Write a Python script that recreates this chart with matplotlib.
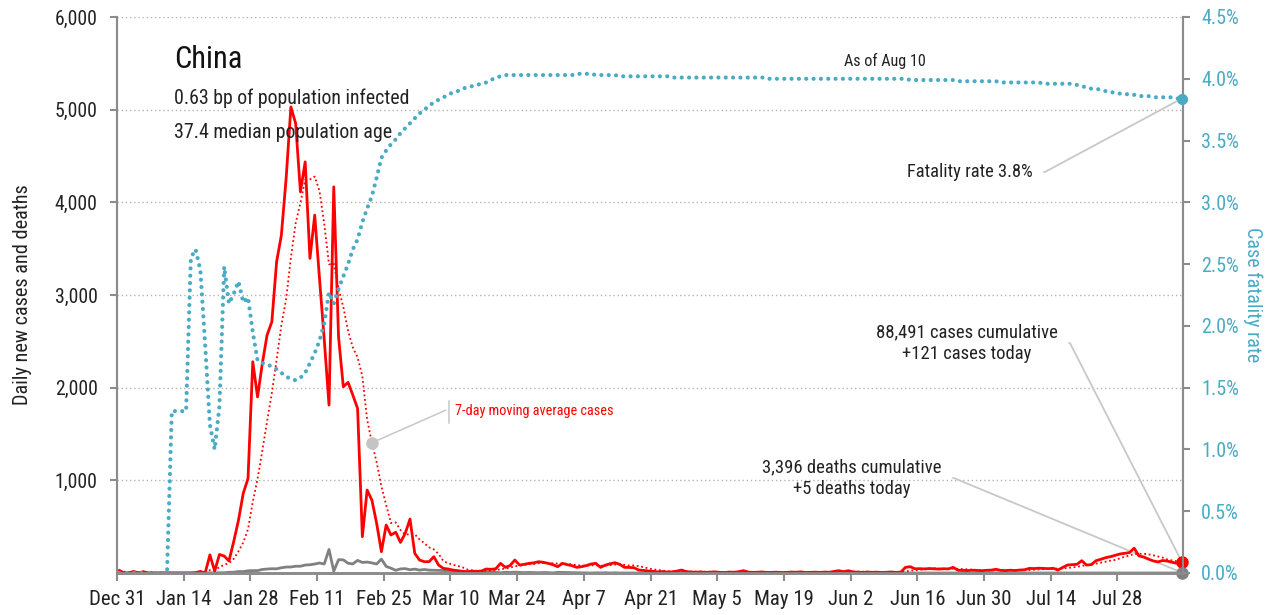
import numpy as np
import pandas as pd
import matplotlib
matplotlib.use('Agg')
import matplotlib.pyplot as plt
from matplotlib import font_manager
from matplotlib.lines import Line2D

# ---------------- data ----------------
start_date = '2019-12-31'

cases = [
    27, 0, 0, 17, 0, 15, 0, 0, 0, 0,
    0, 0, 0, 0, 0, 0, 4, 17, 0, 195,
    20, 200, 183, 130, 340, 570, 860, 1020, 2280, 1900,
    2260, 2567, 2711, 3358, 3646, 4258, 5030, 4851, 4113, 4437,
    3395, 3862, 3180, 2520, 1812, 4167, 2549, 2010, 2057, 1920,
    1776, 392, 895, 787, 536, 230, 518, 410, 440, 330,
    428, 582, 212, 140, 122, 122, 176, 86, 50, 43,
    32, 25, 18, 15, 20, 17, 22, 43, 40, 45,
    104, 61, 80, 140, 86, 94, 104, 110, 122, 115,
    104, 90, 68, 104, 90, 79, 61, 68, 80, 97,
    104, 61, 85, 100, 111, 94, 61, 60, 57, 32,
    28, 22, 18, 12, 15, 10, 12, 20, 32, 15,
    10, 8, 11, 6, 9, 12, 7, 5, 10, 8,
    14, 25, 10, 6, 8, 11, 5, 7, 9, 4,
    6, 10, 8, 12, 5, 7, 9, 6, 10, 8,
    16, 25, 14, 25, 11, 8, 6, 10, 7, 9,
    5, 8, 11, 6, 9, 61, 68, 45, 47, 44,
    48, 45, 42, 46, 44, 61, 30, 28, 26, 30,
    27, 25, 29, 31, 40, 28, 26, 30, 27, 32,
    35, 50, 48, 52, 50, 47, 51, 32, 60, 86,
    90, 94, 133, 86, 90, 133, 148, 165, 176, 190,
    205, 212, 220, 268, 184, 172, 150, 130, 120, 135,
    128, 115, 104, 121,
]

deaths = [
    0, 0, 0, 0, 0, 0, 0, 0, 0, 0,
    0, 1, 0, 0, 0, 0, 1, 0, 0, 1,
    1, 3, 3, 8, 8, 16, 15, 24, 26, 26,
    38, 43, 46, 45, 57, 64, 65, 73, 73, 86,
    89, 97, 108, 97, 254, 20, 143, 142, 105, 98,
    136, 114, 118, 109, 97, 150, 71, 52, 29, 44,
    47, 35, 42, 31, 38, 31, 30, 28, 27, 22,
    17, 22, 11, 7, 13, 10, 14, 13, 11, 8,
    3, 7, 6, 9, 7, 4, 6, 5, 3, 5,
    4, 1, 7, 6, 4, 4, 3, 1, 2, 0,
    2, 1, 3, 0, 2, 0, 0, 1, 0, 0,
    0, 0, 0, 1, 0, 0, 0, 0, 0, 0,
    0, 0, 0, 0, 0, 0, 0, 0, 0, 0,
    0, 0, 0, 0, 0, 0, 0, 0, 0, 0,
    0, 0, 0, 0, 0, 0, 0, 0, 0, 0,
    0, 0, 0, 0, 0, 0, 0, 0, 0, 0,
    0, 0, 0, 0, 0, 0, 0, 0, 0, 0,
    0, 0, 0, 0, 0, 0, 0, 0, 0, 0,
    0, 0, 0, 0, 0, 0, 0, 0, 0, 0,
    0, 0, 0, 0, 0, 0, 0, 0, 0, 0,
    0, 0, 0, 0, 0, 0, 0, 0, 0, 0,
    0, 0, 0, 0, 0, 0, 0, 0, 0, 0,
    0, 0, 0, 5,
]

# case fatality rate, percent
cfr = (
    [0.00, 0.00, 0.00, 0.00, 0.00, 0.00, 0.00, 0.00, 0.00, 0.00,
     0.00, 1.31, 1.31, 1.31, 1.31, 2.55, 2.62, 2.45, 1.85, 1.20,
     1.00, 1.35, 2.48, 2.18, 2.26, 2.36, 2.19, 2.23, 1.95, 1.72,
     1.70, 1.69, 1.67, 1.65, 1.62, 1.59, 1.57, 1.56, 1.58, 1.62,
     1.70, 1.78, 1.88, 2.02, 2.27, 2.18, 2.30, 2.40, 2.50, 2.62,
     2.70, 2.84, 2.95, 3.05, 3.20, 3.36, 3.42, 3.47, 3.51, 3.56,
     3.60, 3.64, 3.68, 3.72, 3.75, 3.78, 3.81, 3.83, 3.85, 3.87,
     3.89, 3.90, 3.92, 3.93, 3.94, 3.95, 3.96, 3.97, 3.99, 4.01,
     4.02]
    + [4.03] * 15
    + [4.04] * 4
    + [4.03] * 5
    + [4.02] * 11
    + [4.01] * 20
    + [4.00] * 30
    + [3.99] * 10
    + [3.98] * 9
    + [3.97] * 9
    + [3.96] * 7
    + [3.95, 3.94, 3.93, 3.92, 3.92, 3.91, 3.90, 3.89, 3.89, 3.88,
       3.88, 3.87, 3.87, 3.86, 3.86, 3.86, 3.85, 3.85, 3.85, 3.85,
       3.85, 3.84, 3.84]
)

tick_labels = ['Dec 31', 'Jan 14', 'Jan 28', 'Feb 11', 'Feb 25', 'Mar 10',
               'Mar 24', 'Apr 7', 'Apr 21', 'May 5', 'May 19', 'Jun 2',
               'Jun 16', 'Jun 30', 'Jul 14', 'Jul 28']
left_ticks = [1000, 2000, 3000, 4000, 5000, 6000]
right_ticks = [0.0, 0.5, 1.0, 1.5, 2.0, 2.5, 3.0, 3.5, 4.0, 4.5]

title = 'China'
subtitle1 = '0.63 bp of population infected'
subtitle2 = '37.4 median population age'
cases_note = '88,491 cases cumulative\n+121 cases today'
deaths_note = '3,396 deaths cumulative\n+5 deaths today'
cfr_note = 'Fatality rate 3.8%'
asof_note = 'As of Aug 10'
ma_note = '7-day moving average cases'

# ---------------- fonts ----------------
available = {f.name for f in font_manager.fontManager.ttflist}
family = 'DejaVu Sans'
for cand in ['Roboto Condensed', 'Liberation Sans Narrow', 'Roboto']:
    if cand in available:
        family = cand
        break
plt.rcParams['font.family'] = [family, 'DejaVu Sans']

RED = '#ff0000'
CYAN = '#4aabc5'
GRAY = '#808080'
AXC = '#8c8c8c'
TXT = '#222222'

# ---------------- figure ----------------
W, H = 1273, 615
fig = plt.figure(figsize=(W / 100, H / 100), dpi=100)
ax = fig.add_axes([117 / W, 1 - 573 / H, (1183 - 117) / W, (573 - 17) / H])
ax2 = ax.twinx()

start = pd.Timestamp(start_date)
dates = pd.date_range(start, periods=len(cases), freq='D') + pd.Timedelta(hours=12)
s_cases = pd.Series(cases, index=dates, dtype=float)
s_deaths = pd.Series(deaths, index=dates, dtype=float)
s_cfr = pd.Series(cfr, index=dates, dtype=float)
ma = s_cases.rolling(7, min_periods=1).mean()

# lines
ax.plot(dates, s_deaths.values, color=GRAY, lw=2.0, zorder=3)
ax.plot(dates, ma.values, color=RED, lw=1.3, ls=(0, (1.0, 1.5)), zorder=4)
ax.plot(dates, s_cases.values, color=RED, lw=2.0, zorder=5)
ax2.plot(dates, s_cfr.values, color=CYAN, lw=3.0, ls=(0, (0.01, 1.75)),
         dash_capstyle='round', zorder=2)

# end markers
ax.plot([dates[-1]], [s_cases.values[-1]], 'o', color=RED, ms=8, zorder=6, clip_on=False)
ax.plot([dates[-1]], [s_deaths.values[-1]], 'o', color=GRAY, ms=8, zorder=6, clip_on=False)
ax2.plot([dates[-1]], [s_cfr.values[-1]], 'o', color=CYAN, ms=7, zorder=6, clip_on=False)

# axes limits
ax.set_xlim(start, dates[-1] + pd.Timedelta(hours=6))
ax.set_ylim(0, 6000)
ax2.set_ylim(0, 4.5)

# ticks
tick_dates = pd.date_range(start, periods=len(tick_labels), freq='14D')
ax.set_xticks(tick_dates)
ax.set_xticklabels(tick_labels)
ax.set_yticks(left_ticks)
ax.set_yticklabels([f'{v:,}' for v in left_ticks])
ax2.set_yticks(right_ticks)
ax2.set_yticklabels([f'{v:.1f}%' for v in right_ticks])

ax.tick_params(axis='x', length=6, width=1.5, color=AXC, labelsize=15, labelcolor=TXT, pad=6)
ax.tick_params(axis='y', length=5, width=1.5, color=AXC, labelsize=14.2, labelcolor=TXT, pad=9)
ax2.tick_params(axis='y', length=5, width=1.5, color=AXC, labelsize=14.5, labelcolor=CYAN, pad=8)

# grid
ax.yaxis.grid(True, color='#b4b4b4', ls=(0, (1, 2)), lw=1.0)
ax.set_axisbelow(True)

for a in (ax, ax2):
    a.spines['top'].set_visible(False)
    a.spines['left'].set_color(AXC)
    a.spines['right'].set_color(AXC)
    a.spines['bottom'].set_color(AXC)
    a.spines['left'].set_linewidth(1.5)
    a.spines['right'].set_linewidth(1.5)
    a.spines['bottom'].set_linewidth(2.0)
ax.patch.set_visible(False)

ax.set_ylabel('Daily new cases and deaths', fontsize=14.6, color=TXT, labelpad=16)
ax2.set_ylabel('Case fatality rate', fontsize=14.5, color=CYAN, rotation=270, labelpad=17)

# ---------------- texts ----------------
def fx(px):
    return px / W

def fy(py):
    return 1 - py / H

fig.text(fx(174), fy(68), title, fontsize=22, color='#111111', va='baseline', ha='left')
fig.text(fx(174), fy(104), subtitle1, fontsize=14.3, color=TXT, va='baseline', ha='left')
fig.text(fx(174), fy(138), subtitle2, fontsize=14.3, color=TXT, va='baseline', ha='left')
fig.text(fx(885), fy(66), asof_note, fontsize=11.6, color=TXT, va='baseline', ha='center')

line_kw = dict(arrowstyle='-', color='#c8c8c8', lw=1.3, shrinkB=4)
arc = 'arc,angleA=0,armA=12,angleB=0,armB=0,rad=0'

ax2.annotate(cfr_note, xy=(dates[-1], s_cfr.values[-1]), xycoords='data',
             xytext=(fx(970), fy(172)), textcoords='figure fraction',
             fontsize=13.3, color=TXT, ha='center', va='center',
             arrowprops=dict(**line_kw, relpos=(1, 0.5), shrinkA=6, connectionstyle=arc))

ax.annotate(cases_note, xy=(dates[-1], s_cases.values[-1]), xycoords='data',
            xytext=(fx(967), fy(343)), textcoords='figure fraction',
            fontsize=13.4, color=TXT, ha='center', va='center', linespacing=1.3,
            arrowprops=dict(**line_kw, relpos=(1, 0.5), shrinkA=6, connectionstyle=arc))

ax.annotate(deaths_note, xy=(dates[-1], s_deaths.values[-1]), xycoords='data',
            xytext=(fx(852), fy(478)), textcoords='figure fraction',
            fontsize=13.4, color=TXT, ha='center', va='center', linespacing=1.3,
            arrowprops=dict(**line_kw, relpos=(1, 0.5), shrinkA=6, connectionstyle=arc))

# moving-average label
k_ma = 53
ax.plot([dates[k_ma]], [ma.values[k_ma]], 'o', color='#c4c4c4', ms=8, zorder=7)
ax.annotate(ma_note, xy=(dates[k_ma], ma.values[k_ma]), xycoords='data',
            xytext=(fx(455), fy(411)), textcoords='figure fraction',
            fontsize=10.3, color=RED, ha='left', va='center',
            arrowprops=dict(arrowstyle='-', color='#c8c8c8', lw=1.1,
                            relpos=(0, 0.85), shrinkA=5, shrinkB=0))
fig.add_artist(Line2D([fx(449), fx(449)], [fy(401), fy(423)], color='#c8c8c8', lw=1.1))

fig.savefig('out.png', dpi=100)
